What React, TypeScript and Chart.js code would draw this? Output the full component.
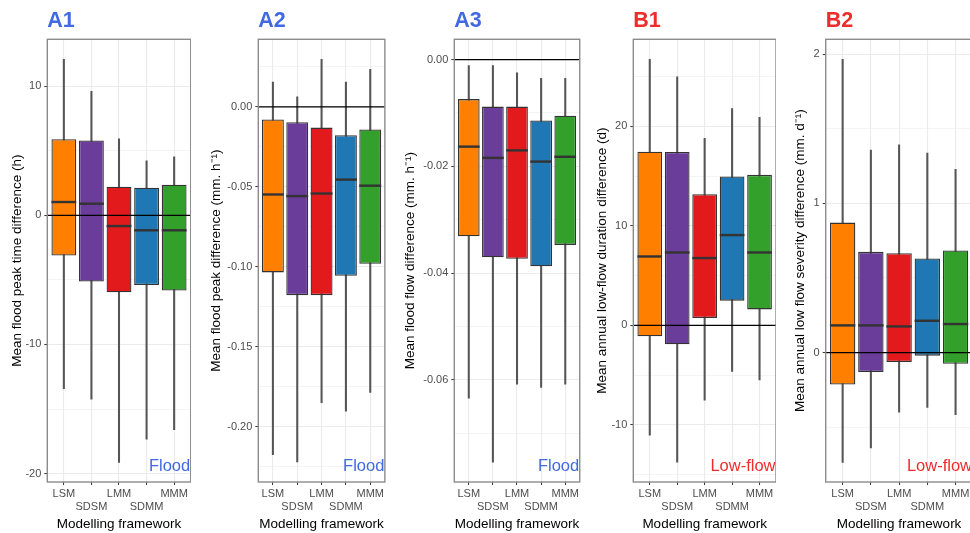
import React, { useEffect, useRef } from 'react';
import { Chart, registerables } from 'chart.js';

Chart.register(...registerables);

const FONT = "'Liberation Sans', Arial, Helvetica, sans-serif";
Chart.defaults.font.family = FONT;

const categories = ['LSM', 'SDSM', 'LMM', 'SDMM', 'MMM'];
const boxColors = ['#FF7F00', '#6A3D9A', '#E31A1C', '#1F78B4', '#33A02C'];
const xTitle = 'Modelling framework';
const BLUE = '#4169E1';
const RED = '#EE2C2C';

// ---- A1: mean flood peak time difference (h)
const a1Min = [-13.43, -14.23, -19.13, -17.33, -16.6];
const a1Q1 = [-3.12, -5.13, -5.96, -5.39, -5.83];
const a1Med = [1.03, 0.9, -0.83, -1.16, -1.16];
const a1Q3 = [5.9, 5.8, 2.21, 2.14, 2.37];
const a1Max = [12.07, 9.61, 5.93, 4.22, 4.53];
const a1Major = [-20, -10, 0, 10];
const a1Labels = ['-20', '-10', '0', '10'];
const a1Minor = [-15, -5, 5];

// ---- A2: mean flood peak difference (mm. h-1)
const a2Min = [-0.2174, -0.222, -0.1849, -0.1902, -0.1785];
const a2Q1 = [-0.1035, -0.1177, -0.1177, -0.1056, -0.0981];
const a2Med = [-0.0548, -0.0558, -0.0542, -0.0455, -0.0493];
const a2Q3 = [-0.0079, -0.0096, -0.013, -0.0178, -0.0142];
const a2Max = [0.0155, 0.0063, 0.0297, 0.0155, 0.0235];
const a2Major = [-0.2, -0.15, -0.1, -0.05, 0];
const a2Labels = ['-0.20', '-0.15', '-0.10', '-0.05', '0.00'];
const a2Minor = [-0.225, -0.175, -0.125, -0.075, -0.025, 0.025];

// ---- A3: mean flood flow difference (mm. h-1)
const a3Min = [-0.0634, -0.0754, -0.0608, -0.0614, -0.0608];
const a3Q1 = [-0.0331, -0.037, -0.0373, -0.0387, -0.0347];
const a3Med = [-0.0163, -0.0184, -0.017, -0.0191, -0.0182];
const a3Q3 = [-0.0074, -0.0088, -0.0088, -0.0114, -0.0105];
const a3Max = [-0.0011, -0.0011, -0.0025, -0.0035, -0.0035];
const a3Major = [-0.06, -0.04, -0.02, 0];
const a3Labels = ['-0.06', '-0.04', '-0.02', '0.00'];
const a3Minor = [-0.07, -0.05, -0.03, -0.01];

// ---- B1: mean annual low-flow duration difference (d)
const b1Min = [-11.03, -13.74, -7.52, -4.64, -5.48];
const b1Q1 = [-1.1, -1.9, 0.74, 2.48, 1.6];
const b1Med = [6.92, 7.32, 6.76, 9.07, 7.32];
const b1Q3 = [17.45, 17.42, 13.18, 14.95, 15.12];
const b1Max = [26.72, 24.97, 18.8, 21.77, 20.9];
const b1Major = [-10, 0, 10, 20];
const b1Labels = ['-10', '0', '10', '20'];
const b1Minor = [-15, -5, 5, 15, 25];

// ---- B2: mean annual low flow severity difference (mm. d-1)
const b2Min = [-0.736, -0.64, -0.399, -0.368, -0.417];
const b2Q1 = [-0.214, -0.131, -0.064, -0.021, -0.075];
const b2Med = [0.182, 0.182, 0.175, 0.213, 0.191];
const b2Q3 = [0.871, 0.675, 0.666, 0.63, 0.684];
const b2Max = [1.966, 1.358, 1.392, 1.338, 1.229];
const b2Major = [0, 1, 2];
const b2Labels = ['0', '1', '2'];
const b2Minor = [-0.5, 0.5, 1.5];

type Panel = {
  id: string;
  titleColor: string;
  yLabel: string;
  note: string;
  yMin: number;
  yMax: number;
  major: number[];
  labels: string[];
  minor: number[];
  lo: number[];
  q1: number[];
  med: number[];
  q3: number[];
  hi: number[];
  canvasLeft: number;
  plotLeft: number;
  plotRight: number;
};

const panels: Panel[] = [
  {
    id: 'A1', titleColor: BLUE, yLabel: 'Mean flood peak time difference (h)', note: 'Flood',
    yMin: -20.65, yMax: 13.63, major: a1Major, labels: a1Labels, minor: a1Minor,
    lo: a1Min, q1: a1Q1, med: a1Med, q3: a1Q3, hi: a1Max,
    canvasLeft: 9, plotLeft: 47.3, plotRight: 190.7,
  },
  {
    id: 'A2', titleColor: BLUE, yLabel: 'Mean flood peak difference (mm. h\u207B\u00B9)', note: 'Flood',
    yMin: -0.2345, yMax: 0.0422, major: a2Major, labels: a2Labels, minor: a2Minor,
    lo: a2Min, q1: a2Q1, med: a2Med, q3: a2Q3, hi: a2Max,
    canvasLeft: 208, plotLeft: 258.3, plotRight: 386,
  },
  {
    id: 'A3', titleColor: BLUE, yLabel: 'Mean flood flow difference (mm. h\u207B\u00B9)', note: 'Flood',
    yMin: -0.0791, yMax: 0.0038, major: a3Major, labels: a3Labels, minor: a3Minor,
    lo: a3Min, q1: a3Q1, med: a3Med, q3: a3Q3, hi: a3Max,
    canvasLeft: 402, plotLeft: 454.3, plotRight: 581,
  },
  {
    id: 'B1', titleColor: RED, yLabel: 'Mean annual low-flow duration difference (d)', note: 'Low-flow',
    yMin: -15.74, yMax: 28.74, major: b1Major, labels: b1Labels, minor: b1Minor,
    lo: b1Min, q1: b1Q1, med: b1Med, q3: b1Q3, hi: b1Max,
    canvasLeft: 594, plotLeft: 633.3, plotRight: 776,
  },
  {
    id: 'B2', titleColor: RED, yLabel: 'Mean annual low flow severity difference (mm. d\u207B\u00B9)', note: 'Low-flow',
    yMin: -0.868, yMax: 2.1, major: b2Major, labels: b2Labels, minor: b2Minor,
    lo: b2Min, q1: b2Q1, med: b2Med, q3: b2Q3, hi: b2Max,
    canvasLeft: 792, plotLeft: 825.7, plotRight: 972.5,
  },
];

const PLOT_TOP = 39.3;
const X_AXIS_H = 51;
const H = 533;

function BoxPanel({ p }: { p: Panel }) {
  const ref = useRef<HTMLCanvasElement>(null);
  const width = Math.ceil(p.plotRight - p.canvasLeft);
  const rightPad = width - (p.plotRight - p.canvasLeft);

  useEffect(() => {
    const canvas = ref.current;
    if (!canvas) return;
    const isMajor = (v: number) => p.major.some((m) => Math.abs(m - v) < 1e-9);

    const overlay = {
      id: 'overlay' + p.id,
      afterDatasetsDraw(chart: any) {
        const { ctx, chartArea: a, scales } = chart;
        const y = scales.y;
        const meta = chart.getDatasetMeta(0);
        ctx.save();
        // medians
        ctx.strokeStyle = '#333333';
        ctx.lineWidth = 2.4;
        meta.data.forEach((bar: any, i: number) => {
          const { x, width: w } = bar.getProps(['x', 'width'], true);
          const py = y.getPixelForValue(p.med[i]);
          ctx.beginPath();
          ctx.moveTo(x - w / 2, py);
          ctx.lineTo(x + w / 2, py);
          ctx.stroke();
        });
        // zero reference line
        const z = y.getPixelForValue(0);
        ctx.strokeStyle = '#000000';
        ctx.lineWidth = 1.2;
        ctx.beginPath();
        ctx.moveTo(a.left, z);
        ctx.lineTo(a.right, z);
        ctx.stroke();
        // panel border
        ctx.strokeStyle = '#8c8c8c';
        ctx.lineWidth = 1.4;
        ctx.strokeRect(a.left, a.top, a.right - a.left, a.bottom - a.top);
        // annotation
        ctx.font = `16.5px ${FONT}`;
        ctx.fillStyle = p.titleColor;
        ctx.textAlign = 'right';
        ctx.textBaseline = 'alphabetic';
        ctx.fillText(p.note, a.right - 0.5, a.bottom - 11.5);
        ctx.restore();
      },
    };

    const chart = new Chart(canvas, {
      type: 'bar',
      data: {
        datasets: [
          {
            label: 'box',
            data: categories.map((_, i) => ({ x: i, y: [p.q1[i], p.q3[i]] })),
            backgroundColor: boxColors,
            borderColor: '#333333',
            borderWidth: 1.3,
            borderSkipped: false,
            barPercentage: 0.9,
            categoryPercentage: 1,
            grouped: false,
            order: 1,
          } as any,
          {
            label: 'whisker',
            data: categories.map((_, i) => ({ x: i, y: [p.lo[i], p.hi[i]] })),
            backgroundColor: '#555555',
            borderWidth: 0,
            barThickness: 1.4,
            grouped: false,
            order: 2,
          } as any,
        ],
      },
      options: {
        responsive: false,
        animation: false,
        devicePixelRatio: 1,
        events: [],
        layout: { padding: { top: PLOT_TOP, right: rightPad, left: 0, bottom: 0 } },
        plugins: { legend: { display: false }, tooltip: { enabled: false }, title: { display: false } },
        scales: {
          x: {
            type: 'linear',
            min: -0.6,
            max: categories.length - 0.4,
            offset: false,
            afterBuildTicks: (s: any) => {
              s.ticks = categories.map((_, i) => ({ value: i }));
            },
            afterFit: (s: any) => {
              s.height = X_AXIS_H;
            },
            ticks: {
              autoSkip: false,
              maxRotation: 0,
              minRotation: 0,
              padding: 2,
              color: '#4D4D4D',
              font: { size: 11, family: FONT },
              callback: (v: any) => {
                const i = Math.round(Number(v));
                return i % 2 === 0 ? [categories[i], ''] : ['', categories[i]];
              },
            },
            grid: { color: '#EBEBEB', lineWidth: 1.1, offset: false, tickColor: '#333333', tickLength: 3, tickWidth: 1 },
            border: { display: false },
            title: {
              display: true,
              text: xTitle,
              color: '#000000',
              font: { size: 13.5, family: FONT },
              padding: { top: 0, bottom: 1 },
            },
          } as any,
          y: {
            type: 'linear',
            min: p.yMin,
            max: p.yMax,
            afterBuildTicks: (s: any) => {
              s.ticks = [...p.major, ...p.minor].sort((a, b) => a - b).map((v) => ({ value: v }));
            },
            afterFit: (s: any) => {
              s.width = p.plotLeft - p.canvasLeft;
            },
            ticks: {
              autoSkip: false,
              padding: 3,
              color: '#4D4D4D',
              font: { size: 11, family: FONT },
              callback: (v: any) => {
                const k = p.major.findIndex((m) => Math.abs(m - Number(v)) < 1e-9);
                return k >= 0 ? p.labels[k] : '';
              },
            },
            grid: {
              color: '#EBEBEB',
              lineWidth: (c: any) => (isMajor(c.tick.value) ? 1.1 : 0.55),
              tickColor: (c: any) => (isMajor(c.tick.value) ? '#333333' : 'rgba(0,0,0,0)'),
              tickLength: 3,
              tickWidth: 1,
            },
            border: { display: false },
            title: {
              display: true,
              text: p.yLabel,
              color: '#000000',
              font: { size: 13.5, family: FONT },
              padding: 0,
            },
          } as any,
        },
      } as any,
      plugins: [overlay],
    });
    return () => chart.destroy();
  }, []);

  return (
    <>
      <div style={{ position: 'absolute', left: p.canvasLeft, top: 0, width, height: H }}>
        <canvas ref={ref} width={width} height={H} style={{ display: 'block', width, height: H }} />
      </div>
      <div
        style={{
          position: 'absolute',
          left: p.plotLeft,
          top: 8.8,
          fontFamily: FONT,
          fontWeight: 'bold',
          fontSize: 21.5,
          lineHeight: '22px',
          color: p.titleColor,
          whiteSpace: 'nowrap',
        }}
      >
        {p.id}
      </div>
    </>
  );
}

export default function App() {
  return (
    <div
      style={{
        position: 'fixed',
        left: 0,
        top: 0,
        width: 970,
        height: H,
        overflow: 'hidden',
        background: '#ffffff',
      }}
    >
      {panels.map((p) => (
        <BoxPanel key={p.id} p={p} />
      ))}
    </div>
  );
}
